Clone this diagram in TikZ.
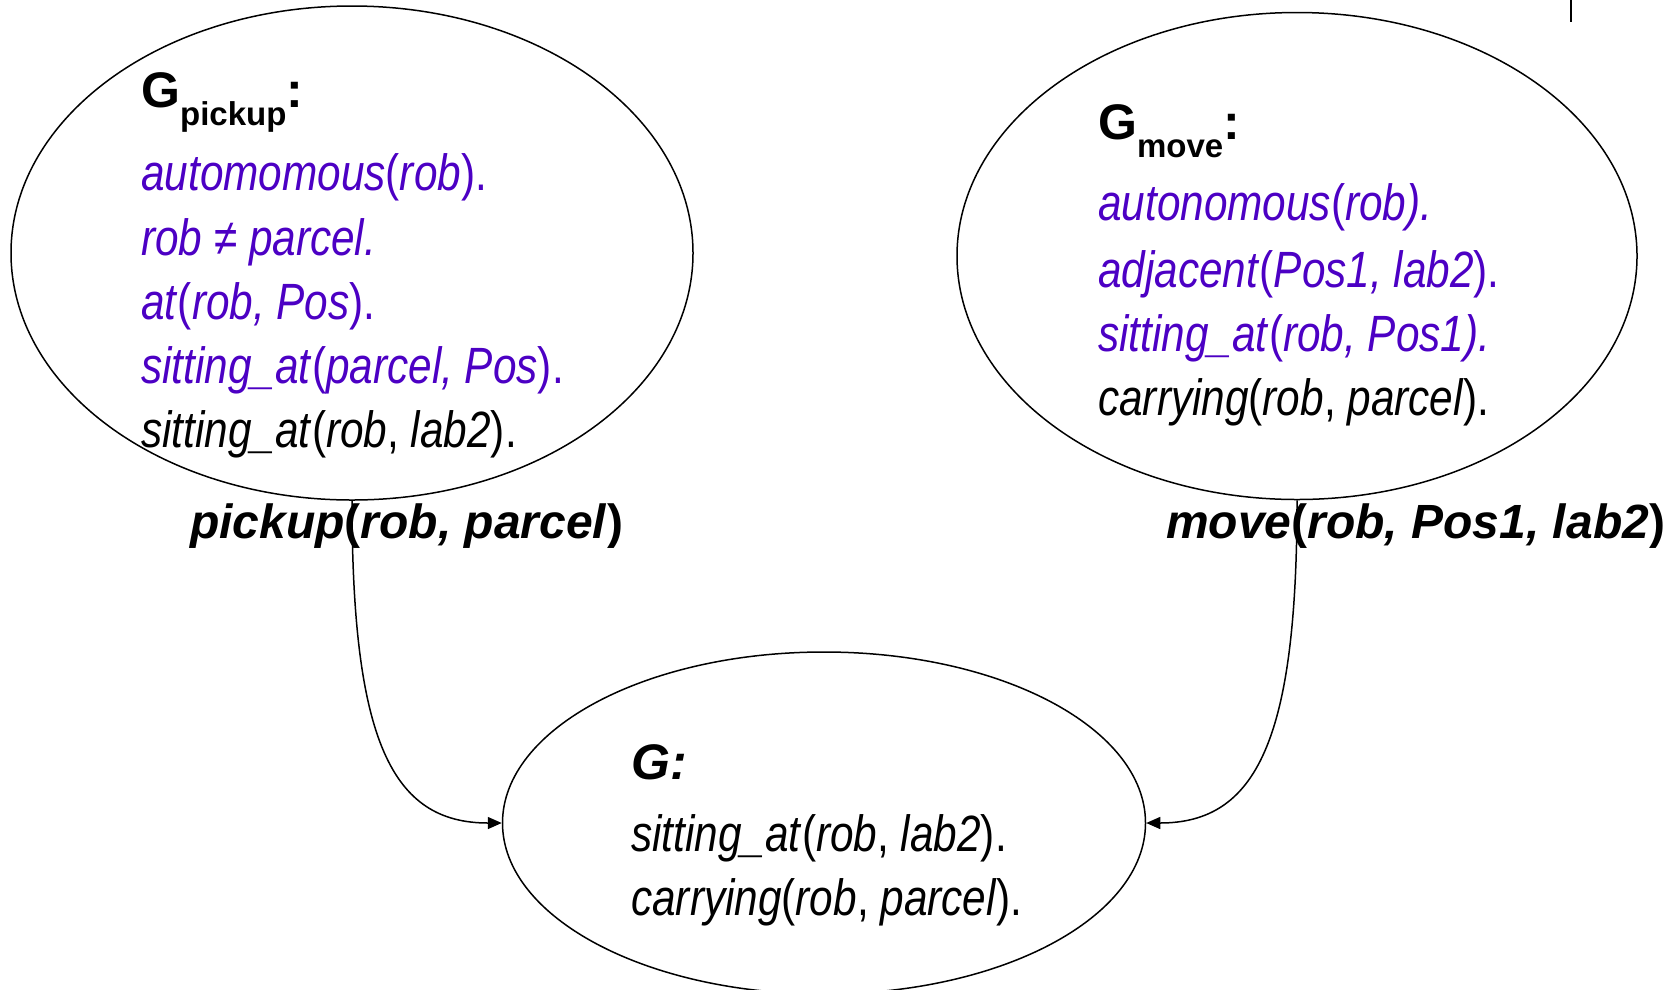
\documentclass[tikz,border=0pt]{standalone}
\usepackage{fontspec}
\setmainfont{Liberation Sans}
\newfontfamily\nar[FakeStretch=0.83]{Liberation Sans}
\usetikzlibrary{shapes.geometric,arrows.meta}
\definecolor{pur}{RGB}{76,0,196}
\newcommand\ii[1]{\textit{#1}}
\tikzset{
 ell/.style={draw, ellipse, line width=1.5pt, inner sep=0pt},
 txt/.style={anchor=base west, inner sep=0pt, font=\nar\fontsize{51}{64}\selectfont},
 lbl/.style={anchor=base west, inner sep=0pt, font=\bfseries\fontsize{48}{56}\selectfont},
 gtitle/.style={anchor=base west, inner sep=0pt, font=\bfseries\fontsize{50}{56}\selectfont},
 conn/.style={line width=1.5pt, -{Triangle[length=14pt,width=12pt]}},
}
\begin{document}
\begin{tikzpicture}[x=1pt,y=-1pt]
\useasboundingbox (0,0) rectangle (1677,989);
\clip (0,0) rectangle (1677,989);
% ellipses
\node[ell, minimum width=682pt, minimum height=494pt] (gp) at (352,253) {};
\node[ell, minimum width=680pt, minimum height=487pt] (gm) at (1297,256) {};
\node[ell, minimum width=643pt, minimum height=342pt] (g) at (824,823) {};
% left text
\node[gtitle] (gpt) at (141,107) {G\raisebox{-18pt}{\fontsize{33}{36}\selectfont pickup}:};
\node[txt, text=pur] (l1) at (141,190) {\ii{automomous}(\ii{rob}).};
\node[txt, text=pur] (l2) at (141,255) {\ii{rob ≠ parcel.}};
\node[txt, text=pur] (l3) at (141,319) {\ii{at}(\ii{rob, Pos}).};
\node[txt, text=pur] (l4) at (141,383) {\ii{sitting\_at}(\ii{parcel, Pos}).};
\node[txt] (l5) at (141,447) {\ii{sitting\_at}(\ii{rob}, \ii{lab2}).};
% right text
\node[gtitle] (gmt) at (1098,139) {G\raisebox{-18pt}{\fontsize{33}{36}\selectfont move}:};
\node[txt, text=pur] (r1) at (1098,220) {\ii{autonomous}(\ii{rob).}};
\node[txt, text=pur] (r2) at (1098,287) {\ii{adjacent}(\ii{Pos1, lab2}).};
\node[txt, text=pur] (r3) at (1098,351) {\ii{sitting\_at}(\ii{rob, Pos1).}};
\node[txt] (r4) at (1098,415) {\ii{carrying}(\ii{rob}, \ii{parcel}).};
% bottom text
\node[lbl, font=\bfseries\itshape\fontsize{50}{56}\selectfont] (gt) at (631,779) {G:};
\node[txt] (b1) at (631,851) {\ii{sitting\_at}(\ii{rob}, \ii{lab2}).};
\node[txt] (b2) at (631,915) {\ii{carrying}(\ii{rob}, \ii{parcel}).};
% action labels
\node[lbl] (pl) at (190,538) {\textit{pickup}(\textit{rob, parcel})};
\node[lbl] (ml) at (1166,538) {\textit{move}(\textit{rob, Pos1, lab2})};
% connectors
\draw[conn] (gp.south) .. controls +(0,240) and +(-110,0) .. (g.west);
\draw[conn] (gm.south) .. controls +(0,240) and +(110,0) .. (g.east);
% tick
\coordinate (t1) at (1571,0);
\coordinate (t2) at (1571,22);
\draw[line width=2pt] (t1) -- (t2);
\end{tikzpicture}
\end{document}
